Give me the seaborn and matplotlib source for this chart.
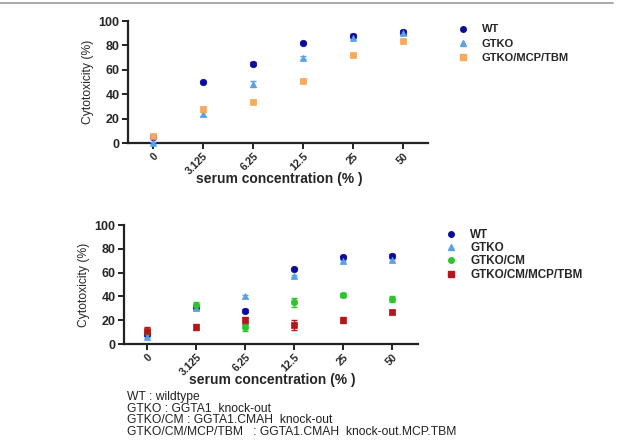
import numpy as np
import pandas as pd
import matplotlib
matplotlib.use("Agg")
import matplotlib.pyplot as plt
import seaborn as sns
from matplotlib.lines import Line2D

sns.set_theme(style="ticks")
plt.rcParams['font.family'] = ['Liberation Sans', 'DejaVu Sans']

conc_labels = ["0", "3.125", "6.25", "12.5", "25", "50"]

# Top panel
top_wt = [5, 50, 65, 82, 88, 91]
top_gtko = [0, 24, 48, 70, 86, 90]
top_mcp = [6, 28, 34, 51, 72, 84]
top_wt_err = [1, 1, 1, 1, 1.5, 1.5]
top_gtko_err = [1, 1.5, 2.5, 1, 1, 1.5]
top_mcp_err = [1.5, 1.5, 1, 1, 1, 1]

# Bottom panel
bot_wt = [8, 31, 28, 63, 73, 74]
bot_gtko = [6, 30, 40, 57, 70, 71]
bot_cm = [10, 33, 14, 35, 41, 38]
bot_cmmcp = [11, 14, 20, 16, 20, 27]
bot_wt_err = [1, 1, 1, 1, 1, 2]
bot_gtko_err = [1, 1.5, 1, 1, 1, 1.5]
bot_cm_err = [2, 2, 3, 3.5, 1.5, 2.5]
bot_cmmcp_err = [3.5, 2.5, 3, 4, 2.5, 1.5]

notes = ["WT : wildtype",
         "GTKO : GGTA1  knock-out",
         "GTKO/CM : GGTA1.CMAH  knock-out",
         "GTKO/CM/MCP/TBM   : GGTA1.CMAH  knock-out.MCP.TBM"]

C_WT = "#0b0b9c"
C_GTKO = "#5aa2e6"
C_MCP = "#f5a95e"
C_CM = "#2fc42f"
C_CMMCP = "#b3161c"

fig = plt.figure(figsize=(6.22, 4.48), dpi=100)

# top horizontal rule
fig.add_artist(Line2D([0, 0.985], [1 - 3/448, 1 - 3/448], color="#999999", lw=1.2))

def draw_panel(ax, series, legend_anchor, xlim, xlabel_y, lspacing, lsize):
    rows = []
    for name, vals, errs, color, marker, size in series:
        for i, (v, e) in enumerate(zip(vals, errs)):
            rows.append(dict(series=name, x=i, y=v, err=e))
    df = pd.DataFrame(rows)
    handles = []
    for name, vals, errs, color, marker, size in series:
        sub = df[df.series == name]
        ax.errorbar(sub.x, sub.y, yerr=sub.err, fmt="none", ecolor=color,
                    elinewidth=1, capsize=2, clip_on=False, zorder=3)
        sns.scatterplot(data=sub, x="x", y="y", ax=ax, color=color, marker=marker,
                        s=size, edgecolor=color, linewidth=0.5, legend=False,
                        clip_on=False, zorder=4)
        handles.append(Line2D([], [], ls="none", marker=marker, color=color,
                              markersize=4, label=name))
    ax.set_xlim(*xlim)
    ax.set_ylim(0, 100)
    ax.set_xticks(range(len(conc_labels)))
    ax.set_xticklabels(conc_labels, rotation=45, ha="right", rotation_mode="anchor",
                       fontweight="bold", fontsize=7.6)
    ax.set_yticks([0, 20, 40, 60, 80, 100])
    ax.set_yticklabels([0, 20, 40, 60, 80, 100], fontweight="bold", fontsize=9)
    ax.tick_params(axis="both", width=1.4, length=4, color="#222222", pad=2)
    for s in ["left", "bottom"]:
        ax.spines[s].set_linewidth(1.6)
        ax.spines[s].set_color("#222222")
    sns.despine(ax=ax)
    ax.set_xlabel("serum concentration (% )", fontweight="bold", fontsize=10)
    ax.xaxis.set_label_coords(0.503, xlabel_y)
    ax.xaxis.label.set_va("center")
    ax.set_ylabel("Cytotoxicity (%)", fontsize=8.7, labelpad=3)
    fig.legend(handles=handles, loc="upper left", bbox_to_anchor=legend_anchor,
               frameon=False, prop=dict(weight="bold", size=lsize),
               handlelength=1.0, handletextpad=1.2, labelspacing=lspacing,
               borderaxespad=0)
    return ax

ax1 = fig.add_axes([128/622, 1 - 143/448, 300/622, 122/448])
draw_panel(ax1, [
    ("WT", top_wt, top_wt_err, C_WT, "o", 22),
    ("GTKO", top_gtko, top_gtko_err, C_GTKO, "^", 20),
    ("GTKO/MCP/TBM", top_mcp, top_mcp_err, C_MCP, "s", 22),
], (453/622, 1 - 20/448), (-0.5, 5.5), -0.292, 0.4, 8)

ax2 = fig.add_axes([124/622, 1 - 344/448, 294/622, 119/448])
draw_panel(ax2, [
    ("WT", bot_wt, bot_wt_err, C_WT, "o", 22),
    ("GTKO", bot_gtko, bot_gtko_err, C_GTKO, "^", 20),
    ("GTKO/CM", bot_cm, bot_cm_err, C_CM, "o", 22),
    ("GTKO/CM/MCP/TBM", bot_cmmcp, bot_cmmcp_err, C_CMMCP, "s", 22),
], (440/622, 1 - 224/448), (-0.47, 5.53), -0.30, 0.12, 8.4)

for i, line in enumerate(notes):
    fig.text(127/622, 1 - (397 + i * 11.7)/448, line, fontsize=8.7, va="center",
             ha="left", color="#222222")

fig.savefig("out.png", dpi=100)
